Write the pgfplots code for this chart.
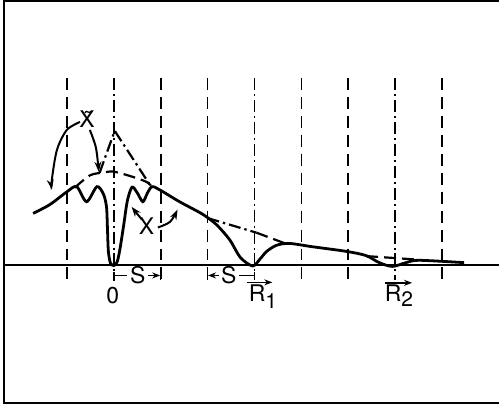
\documentclass[border=0pt]{standalone}
\usepackage{pgfplots}
\pgfplotsset{compat=1.18}
\usepackage{fontspec}
\setmainfont{TeX Gyre Heros}
\usetikzlibrary{arrows.meta}
\tikzset{
  lab/.style={font=\fontsize{11.5}{12}\selectfont, inner sep=0pt},
  vd/.style={line width=0.85pt, dash pattern=on 6pt off 3.5pt},
  vdd/.style={line width=0.85pt, dash pattern=on 6pt off 2pt on 1pt off 2pt},
  arr/.style={line width=1pt, -{Stealth[length=5pt,width=3.5pt]}, smooth}}
\begin{document}
\begin{tikzpicture}
\begin{axis}[scale only axis, width=250pt, height=204.5pt,
  xmin=-2.42553, xmax=8.21277, ymin=-3.04255, ymax=5.65957,
  hide axis, clip=false,
  every axis plot/.append style={black}]
\path (rel axis cs:0,0) rectangle (rel axis cs:1,1);
% frame
\addplot[line width=1pt] coordinates {(8.213,5.638) (-2.34,5.638) (-2.34,-2.93) (8.213,-2.93)};
% baseline
\addplot[line width=1pt] coordinates {(-2.34,0) (8.213,0)};
% vertical guide lines
\addplot[vd] coordinates {(-1,4.0) (-1,-0.34)};
\addplot[vd] coordinates {(1,4.0) (1,-0.34)};
\addplot[vd] coordinates {(2,4.0) (2,-0.34)};
\addplot[vd] coordinates {(4,4.0) (4,-0.34)};
\addplot[vd] coordinates {(5,4.0) (5,-0.34)};
\addplot[vd] coordinates {(7,4.0) (7,-0.34)};
\addplot[vdd] coordinates {(0,4.0) (0,-0.34)};
\addplot[vdd] coordinates {(3,4.0) (3,-0.30)};
\addplot[vdd] coordinates {(6,4.0) (6,-0.30)};
% envelopes
\addplot[line width=1.1pt, dash pattern=on 6pt off 3pt, smooth] coordinates {(-0.83,1.66) (-0.51,1.92) (-0.23,1.98) (0,2.0) (0.40,1.89) (0.70,1.78) (0.83,1.66)};
\addplot[line width=1.1pt, dash pattern=on 6pt off 2pt on 1.2pt off 2pt] coordinates {(-0.30,1.98) (0.02,2.87) (0.77,1.72)};
\addplot[line width=1.1pt, dash pattern=on 6pt off 2pt on 1.2pt off 2pt] coordinates {(2.0,1.01) (3.04,0.70)};
\addplot[line width=1.1pt, dash pattern=on 6pt off 3pt] coordinates {(3.04,0.70) (3.68,0.46)};
\addplot[line width=1.1pt, dash pattern=on 6pt off 3pt] coordinates {(5.38,0.20) (6.4,0.13)};
% main curve
\addplot[line width=1.4pt, smooth, tension=0.5] coordinates {
(-1.72,1.11) (-1.36,1.30) (-1.0,1.57) (-0.79,1.68) (-0.58,1.36) (-0.36,1.68)
(-0.22,1.52) (-0.155,1.25) (-0.135,0.8) (-0.115,0.30) (-0.07,0.05) (0,0)
(0.07,0.07) (0.13,0.34) (0.21,0.85) (0.29,1.38) (0.39,1.67) (0.50,1.55)
(0.62,1.36) (0.72,1.55) (0.82,1.68) (1.0,1.60) (1.40,1.36) (1.83,1.13)
(2.0,1.02) (2.2,0.86) (2.47,0.55) (2.70,0.17) (2.96,-0.01) (3.12,0.14)
(3.26,0.30) (3.47,0.43) (3.74,0.47) (4.23,0.40) (4.96,0.30) (5.38,0.21)
(5.66,0.06) (5.94,-0.02) (6.23,0.06) (6.51,0.11) (7.47,0.06)};
% annotation arrows
\addplot[arr] coordinates {(-0.72,3.06) (-1.0,2.89) (-1.21,2.47) (-1.32,1.83) (-1.32,1.62)};
\addplot[arr] coordinates {(-0.51,2.89) (-0.38,2.51) (-0.32,2.0)};
\addplot[arr] coordinates {(0.60,0.98) (0.50,1.10) (0.38,1.25)};
\addplot[arr] coordinates {(0.94,0.81) (1.20,0.93) (1.36,1.19)};
% S markers
\addplot[line width=0.8pt] coordinates {(0,-0.13) (0,-0.30)};
\addplot[line width=0.8pt] coordinates {(1,-0.13) (1,-0.30)};
\addplot[line width=0.8pt] coordinates {(0,-0.213) (0.28,-0.213)};
\addplot[line width=0.8pt, -{Stealth[length=4pt,width=3pt]}] coordinates {(0.74,-0.213) (0.99,-0.213)};
\addplot[line width=0.8pt] coordinates {(2,-0.13) (2,-0.30)};
\addplot[line width=0.8pt] coordinates {(3,-0.13) (3,-0.30)};
\addplot[line width=0.8pt, -{Stealth[length=4pt,width=3pt]}] coordinates {(2.24,-0.213) (2.01,-0.213)};
\addplot[line width=0.8pt] coordinates {(2.68,-0.213) (3,-0.213)};
% R arrows
\addplot[line width=0.8pt, -{Stealth[length=4pt,width=3pt]}] coordinates {(2.83,-0.36) (3.38,-0.36)};
\addplot[line width=0.8pt, -{Stealth[length=4pt,width=3pt]}] coordinates {(5.79,-0.37) (6.36,-0.37)};
% labels
\node[lab] at (axis cs:0.51,-0.213) {S};
\node[lab] at (axis cs:2.45,-0.213) {S};
\node[lab] at (axis cs:-0.02,-0.64) {0};
\node[lab, anchor=base west] at (axis cs:2.87,-0.76) {R\raisebox{-0.6ex}{\fontsize{10.5}{11}\selectfont 1}};
\node[lab, anchor=base west] at (axis cs:5.77,-0.77) {R\raisebox{-0.4ex}{\fontsize{10.5}{11}\selectfont 2}};
\node[lab] at (axis cs:-0.57,3.12) {\~{X}};
\node[lab] at (axis cs:0.70,0.83) {X};
\end{axis}
\end{tikzpicture}
\end{document}
